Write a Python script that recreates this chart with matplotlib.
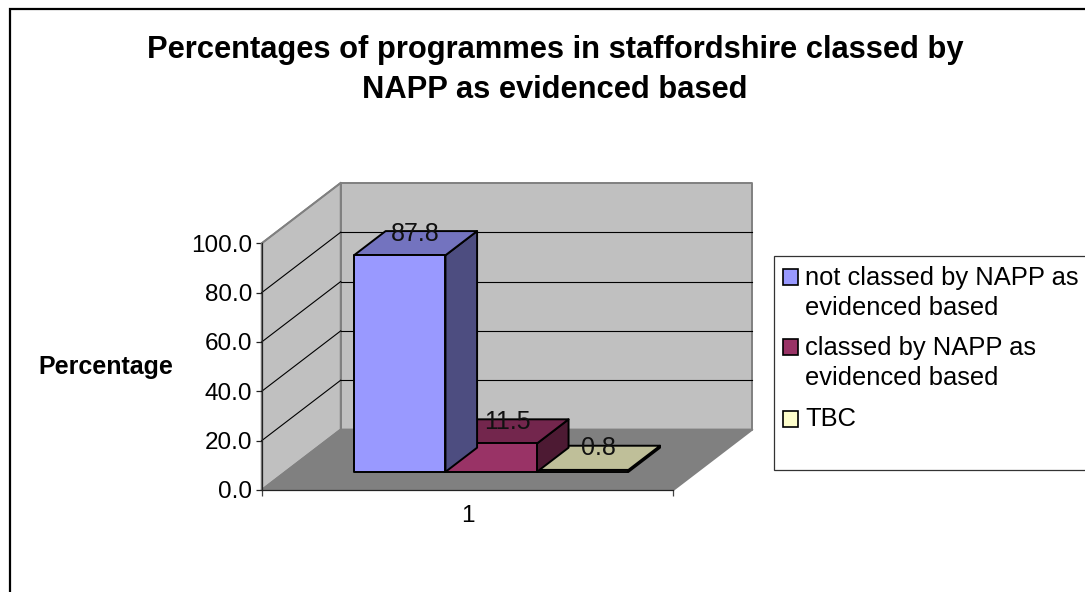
import matplotlib
matplotlib.use('Agg')
import matplotlib.pyplot as plt
from matplotlib.legend_handler import HandlerPatch
from matplotlib.patches import Patch, Rectangle

title = 'Percentages of programmes in staffordshire classed by\nNAPP as evidenced based'
ylabel = 'Percentage'
category = '1'
series = ['not classed by NAPP as\nevidenced based', 'classed by NAPP as\nevidenced based', 'TBC']
values = [87.8, 11.5, 0.8]
yticks = [0, 20, 40, 60, 80, 100]

front = ['#9999FF', '#993366', '#FFFFCC']
top = ['#7373BF', '#73264D', '#BFBF99']
side = ['#4D4D80', '#4D1A33', '#808066']

# excel style oblique depth, in axis units
DX = 0.192
DY = 24.5
W, H = 1085, 592


def proj(x, y, z):
    return x + z * DX, y + z * DY


def face(ax, pts, color, ec='black', lw=1.4, zorder=3):
    xs, ys = zip(*[proj(*p) for p in pts])
    ax.fill(xs, ys, facecolor=color, edgecolor=ec, linewidth=lw, clip_on=False,
            joinstyle='round', zorder=zorder)


def line(ax, a, b, color='black', lw=0.8, zorder=2):
    xa, ya = proj(*a)
    xb, yb = proj(*b)
    ax.plot([xa, xb], [ya, yb], color=color, lw=lw, clip_on=False, zorder=zorder)


def swatch(shift):
    """legend key moved up to the first text line"""
    def make(legend, orig_handle, xdescent, ydescent, width, height, fontsize):
        return Rectangle((-xdescent, -ydescent + shift), width, height)
    return HandlerPatch(patch_func=make)


plt.rcParams['font.family'] = ['Liberation Sans', 'DejaVu Sans']
fig = plt.figure(figsize=(W / 100, H / 100), dpi=100)
fig.add_artist(Rectangle((9.5 / W, -0.1), 1.2, 1.1 - 8.5 / H, transform=fig.transFigure,
                         facecolor='white', edgecolor='black', linewidth=1.6, zorder=0))

ax = fig.add_axes([261.7 / W, 1 - 490 / H, 411.6 / W, 246.7 / H])
ax.patch.set_visible(False)
ax.set_xlim(0, 1)
ax.set_ylim(0, 100)

# walls and floor
face(ax, [(0, 0, 1), (1, 0, 1), (1, 100, 1), (0, 100, 1)], '#C0C0C0', ec='#808080', zorder=1)
face(ax, [(0, 0, 0), (0, 0, 1), (0, 100, 1), (0, 100, 0)], '#C0C0C0', ec='#808080', zorder=1)
face(ax, [(0, 0, 0), (1, 0, 0), (1, 0, 1), (0, 0, 1)], '#808080', ec='#808080', zorder=1)

for v in yticks[1:-1]:
    line(ax, (0, v, 0), (0, v, 1))
    line(ax, (0, v, 1), (1, v, 1))
line(ax, (0, 100, 0), (0, 100, 1), color='#808080', lw=1.2)

# bars, gap width 150%
bar_w = 1 / 4.5
z0, z1 = 0.3, 0.7
for i, v in enumerate(values):
    x0 = bar_w * 0.75 + i * bar_w
    x1 = x0 + bar_w
    zo = 3 + (len(values) - i) * 0.1
    face(ax, [(x1, 0, z0), (x1, 0, z1), (x1, v, z1), (x1, v, z0)], side[i], zorder=zo)
    face(ax, [(x0, v, z0), (x1, v, z0), (x1, v, z1), (x0, v, z1)], top[i], zorder=zo)
    face(ax, [(x0, 0, z0), (x1, 0, z0), (x1, v, z0), (x0, v, z0)], front[i], zorder=zo)
for i, v in enumerate(values):
    x0 = bar_w * 0.75 + i * bar_w
    lx = proj(x0 + bar_w / 2, 0, 0.5)[0]
    ly = proj(0, v, 0.7)[1]
    ax.text(lx, ly, '%.1f' % v, ha='center', va='center_baseline', fontsize=18, color='#111111', zorder=5)

for s in ['top', 'right']:
    ax.spines[s].set_visible(False)
ax.spines['left'].set_color('#222222')
ax.spines['bottom'].set_color('#222222')
ax.spines['left'].set_linewidth(0.9)
ax.spines['bottom'].set_linewidth(0.9)
ax.set_yticks(yticks)
ax.set_yticklabels(['%.1f' % t for t in yticks], fontsize=17.5)
ax.set_xticks([0, 1])
ax.set_xticklabels(['', ''])
ax.set_xticks([0.5], [category], minor=True, fontsize=17.5)
ax.tick_params(axis='x', which='minor', length=0, pad=11)
ax.tick_params(axis='x', which='major', length=4.5, width=0.9, color='#444444')
ax.tick_params(axis='y', length=4.5, width=0.9, color='#222222', pad=2.5)

fig.text(106 / W, 1 - 367 / H, ylabel, fontsize=18, fontweight='bold', ha='center', va='center')
fig.text(555 / W, 1 - 70 / H, title, fontsize=22.2, fontweight='bold', ha='center', va='center',
         linespacing=1.41)

# legend box runs off the right edge
fig.add_artist(Rectangle((774 / W, 1 - 470 / H), 0.4, 214.5 / H, transform=fig.transFigure,
                         facecolor='white', edgecolor='#333333', linewidth=0.9, zorder=1))
handles = [Patch(facecolor=c, edgecolor='black', linewidth=1.2) for c in front]
shifts = [12, 12, -1.8]
leg = fig.legend(handles, series, loc='upper left', bbox_to_anchor=(783 / W, 1 - 266 / H),
                 frameon=False, fontsize=18.4, handlelength=0.58, handleheight=0.58,
                 handletextpad=0.3, labelspacing=0.65, borderpad=0, borderaxespad=0,
                 handler_map={h: swatch(s) for h, s in zip(handles, shifts)})
for t in leg.get_texts():
    t.set_linespacing(1.3)
leg.set_zorder(6)

fig.savefig('out.png', dpi=100)
